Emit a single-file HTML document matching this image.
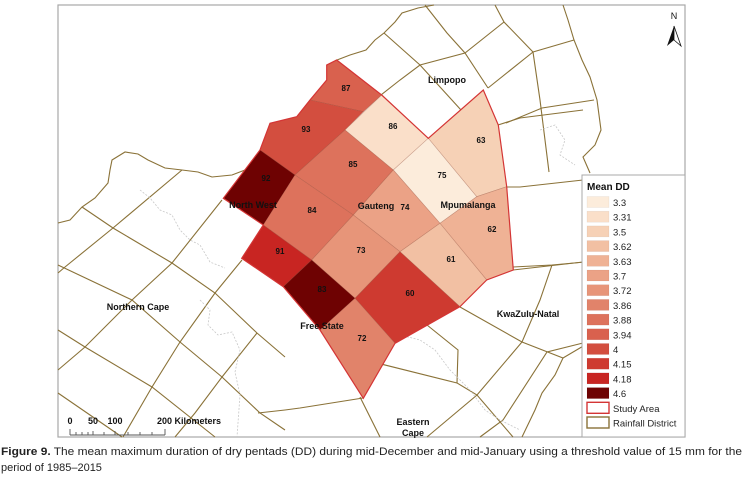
<!DOCTYPE html>
<html><head><meta charset="utf-8">
<style>
html,body{margin:0;padding:0;background:#fff;}
svg{display:block;font-family:"Liberation Sans",Arial,sans-serif;}
</style></head>
<body>
<svg id="map" width="743" height="479" viewBox="0 0 743 479" xmlns="http://www.w3.org/2000/svg">
  <rect x="58" y="5" width="627" height="432" fill="#fff" stroke="#a8a8a8" stroke-width="1.2"/>
  <g id="districts" fill="none" stroke="#8a7238" stroke-width="1.1"></g>
  <g id="dashes" fill="none" stroke="#c8c8c8" stroke-width="0.8" stroke-dasharray="2,1.5"></g>
  <g id="cells"></g>
  <g id="maplabels" font-size="9" font-weight="bold" fill="#111" text-anchor="middle"></g>

  <g>
    <text x="674" y="19" font-size="9" text-anchor="middle" fill="#111">N</text>
    <polygon points="674,26 667,46 674,40" fill="#111"/>
    <polygon points="674,26 681,46 674,40" fill="#fff" stroke="#111" stroke-width="0.8"/>
  </g>

  <g font-size="9" font-weight="bold" fill="#111">
    <text x="70" y="424" text-anchor="middle">0</text>
    <text x="93" y="424" text-anchor="middle">50</text>
    <text x="115" y="424" text-anchor="middle">100</text>
    <text x="157" y="424">200 Kilometers</text>
    <path d="M70,435 H165 M70,429 V435 M76,432 V435 M82,432 V435 M88,432 V435 M93,431 V435 M104,432 V435 M115,431 V435 M128,432 V435 M140,432 V435 M152,432 V435 M165,429 V435" stroke="#555" stroke-width="0.9" fill="none"/>
  </g>

  <g id="legend">
    <rect x="582" y="175" width="103" height="262" fill="#fff" stroke="#a8a8a8" stroke-width="1"/>
    <text x="587" y="190" font-size="10" font-weight="bold" fill="#111">Mean DD</text>
  </g>

  <g font-size="11" fill="#222">
    <text x="1" y="455" textLength="741" lengthAdjust="spacingAndGlyphs"><tspan font-weight="bold">Figure 9.</tspan> The mean maximum duration of dry pentads (DD) during mid-December and mid-January using a threshold value of 15 mm for the</text>
    <text x="1" y="471">period of 1985–2015</text>
  </g>
</svg>
<script>
// ---- data ----
const legendValues = ["3.3","3.31","3.5","3.62","3.63","3.7","3.72","3.86","3.88","3.94","4","4.15","4.18","4.6"];
const legendColors = ["#fcecdb","#fadfc9","#f6d1b6","#f2c0a3","#efb295","#eba286","#e79579","#e1836a","#dd725c","#d9614e","#d34e3f","#ce3a30","#c82522","#6e0202"];
const cellLabels = ["87","93","86","63","92","85","75","84","74","62","91","73","61","83","60","72"];
const cellDD = [3.94,4,3.31,3.5,4.6,3.88,3.3,3.88,3.7,3.63,4.18,3.72,3.62,4.6,4.15,3.86];

// ---- geometry (cell outlines, not data) ----
const cellGeom = [
 [[310,100],[326.7,80],[326.7,65],[336.7,60],[381.7,95],[363.3,111.7]],
 [[260,150],[270,123.3],[296.7,116.7],[310,100],[363.3,111.7],[345,130],[295,175]],
 [[345,130],[381.7,95],[428.3,138.3],[393.3,170]],
 [[428.3,138.3],[483.3,90],[498.3,125],[506.7,186.7],[476.7,196.7]],
 [[260,150],[295,175],[263.3,225],[223.3,198.3]],
 [[345,130],[393.3,170],[353.3,215],[295,175]],
 [[428.3,138.3],[476.7,196.7],[440,223.3],[393.3,170]],
 [[295,175],[353.3,215],[311.7,260],[263.3,225]],
 [[393.3,170],[440,223.3],[400,251.7],[353.3,215]],
 [[476.7,196.7],[506.7,186.7],[513.3,270],[486.7,280],[440,223.3]],
 [[263.3,225],[311.7,260],[283.3,286.7],[241.7,258.3]],
 [[353.3,215],[400,251.7],[355,298.3],[311.7,260]],
 [[440,223.3],[486.7,280],[460,306.7],[400,251.7]],
 [[311.7,260],[355,298.3],[320,330],[283.3,286.7]],
 [[400,251.7],[460,306.7],[395,343.3],[355,298.3]],
 [[355,298.3],[395,343.3],[363.3,398.3],[320,330]]
];
const cellLabelPos = [[346,91],[306,132],[393,129],[481,143],[266,181],[353,167],[442,178],[312,213],[405,210],[492,232],[280,254],[361,253],[451,262],[322,292],[410,296],[362,341]];
const studyOutline = [[336.7,60],[381.7,95],[428.3,138.3],[483.3,90],[498.3,125],[506.7,186.7],[513.3,270],[486.7,280],[460,306.7],[395,343.3],[363.3,398.3],[320,330],[283.3,286.7],[241.7,258.3],[263.3,225],[223.3,198.3],[260,150],[270,123.3],[296.7,116.7],[310,100],[326.7,80],[326.7,65]];
const districtLines = [
 "M58,223 L70,220 82,207 95,198 108,183 110,170 112,160 125,152 138,154 148,160 165,168 182,170 198,172 212,177 232,175 245,170 255,163",
 "M182,170 L113,228 65,267 58,273",
 "M82,207 L113,228 172,263 215,293 257,333 285,357",
 "M222,200 L172,263 132,300 85,347 58,370",
 "M58,265 L132,300 180,342 222,377 260,413 285,430",
 "M242,260 L215,293 180,342 152,387 123,437",
 "M58,330 L85,347 152,387 215,437",
 "M257,333 L222,377 195,413 175,437",
 "M58,393 L122,437",
 "M258,413 L285,410 300,408 363,398",
 "M460,307 L522,342 563,358 585,345",
 "M427,325 L458,350 457,383 477,395 513,437",
 "M377,363 L457,383",
 "M360,397 L380,437",
 "M552,265 L540,300 522,342 477,395 427,437",
 "M513,267 L552,265 585,262",
 "M583,343 L547,352 503,420 480,437",
 "M563,358 L555,375 542,393 535,410 522,437",
 "M337,60 L350,55 366,50 375,40 384,33 395,22 402,13 418,8 434,5",
 "M563,5 L568,20 574,40 582,60 590,77 597,100 601,130 595,145 583,157 590,173",
 "M425,5 L447,33 465,53 488,88",
 "M384,33 L420,65 461,110",
 "M495,5 L504,22 533,52 540,100 549,172",
 "M504,22 L465,53 420,65 400,80 381,95",
 "M533,52 L574,40",
 "M533,52 L488,88",
 "M506,123 L542,108 594,100",
 "M498,125 L520,118 583,110",
 "M507,187 L520,187 583,180",
 "M513,270 L583,262"
];
const provinceDashes = [
 "M140,190 L150,198 160,210 172,215 180,230 190,240 200,245 210,262 225,268",
 "M200,300 L210,310 208,325 218,335 232,332 240,350 235,372 240,395 237,437",
 "M400,335 L420,340 435,350 450,370 470,390 485,410 500,420 520,430",
 "M540,130 L555,125 565,140 560,155 575,165",
 "M363,130 L380,140 395,142 410,150 420,165 430,180 445,190 470,200 480,195",
 "M270,230 L290,240 310,245 330,250 350,258 375,262 395,270 420,268 440,272 470,270 490,275"
];
const mapLabelText = ["North West","Gauteng","Mpumalanga","Limpopo","Northern Cape","Free State","KwaZulu-Natal","Eastern","Cape"];
const mapLabelPos = [[253,208],[376,209],[468,208],[447,83],[138,310],[322,329],[528,317],[413,425],[413,436]];

// ---- render ----
const NS = "http://www.w3.org/2000/svg";
function colorFor(v){
  let best = 0, bd = 1e9;
  for (let i = 0; i < legendValues.length; i++) {
    const d = Math.abs(parseFloat(legendValues[i]) - v);
    if (d < bd) { bd = d; best = i; }
  }
  return legendColors[best];
}
const pts = a => a.map(p => p[0] + "," + p[1]).join(" ");

const gD = document.getElementById("districts");
districtLines.forEach(d => {
  const p = document.createElementNS(NS, "path");
  p.setAttribute("d", d);
  
  
  gD.appendChild(p);
});
const gP = document.getElementById("dashes");
provinceDashes.forEach(d => {
  const p = document.createElementNS(NS, "path");
  p.setAttribute("d", d);
  
  
  gP.appendChild(p);
});

const gC = document.getElementById("cells");
cellGeom.forEach((g, i) => {
  const p = document.createElementNS(NS, "polygon");
  p.setAttribute("points", pts(g));
  p.setAttribute("fill", colorFor(cellDD[i]));
  p.setAttribute("stroke", "rgba(140,70,50,0.35)");
  p.setAttribute("stroke-width", "0.6");
  
  
  gC.appendChild(p);
});
const outline = document.createElementNS(NS, "polygon");
outline.setAttribute("points", pts(studyOutline));
outline.setAttribute("fill", "none");
outline.setAttribute("stroke", "#d43535");
outline.setAttribute("stroke-width", "1.2");


gC.appendChild(outline);

const gL = document.getElementById("maplabels");
cellLabels.forEach((t, i) => {
  const e = document.createElementNS(NS, "text");
  e.setAttribute("x", cellLabelPos[i][0]);
  e.setAttribute("y", cellLabelPos[i][1]);
  e.setAttribute("font-size", "8");
  e.textContent = t;
  
  
  gL.appendChild(e);
});
mapLabelText.forEach((t, i) => {
  const e = document.createElementNS(NS, "text");
  e.setAttribute("x", mapLabelPos[i][0]);
  e.setAttribute("y", mapLabelPos[i][1]);
  e.textContent = t;
  
  
  gL.appendChild(e);
});

const gLeg = document.getElementById("legend");
const rowH = 14.7, firstY = 196.5;
function legRow(i, fill, stroke, label, name){
  const r = document.createElementNS(NS, "rect");
  r.setAttribute("x", 587); r.setAttribute("y", firstY + i*rowH);
  r.setAttribute("width", 22); r.setAttribute("height", 11);
  r.setAttribute("fill", fill);
  r.setAttribute("stroke", stroke === "none" ? "rgba(0,0,0,0.08)" : stroke);
  r.setAttribute("stroke-width", stroke === "none" ? 0.5 : 1.4);
  
  
  gLeg.appendChild(r);
  const t = document.createElementNS(NS, "text");
  t.setAttribute("x", 613); t.setAttribute("y", firstY + i*rowH + 9.5);
  t.setAttribute("font-size", "9.5"); t.setAttribute("fill", "#222");
  t.textContent = label;
  
  
  gLeg.appendChild(t);
}
legendValues.forEach((v, i) => legRow(i, legendColors[i], "none", v, "legend-entry"));
legRow(legendValues.length, "#fff", "#d43535", "Study Area", "legend-study-area");
legRow(legendValues.length + 1, "#fff", "#8a7238", "Rainfall District", "legend-rainfall-district");
</script>
</body></html>
